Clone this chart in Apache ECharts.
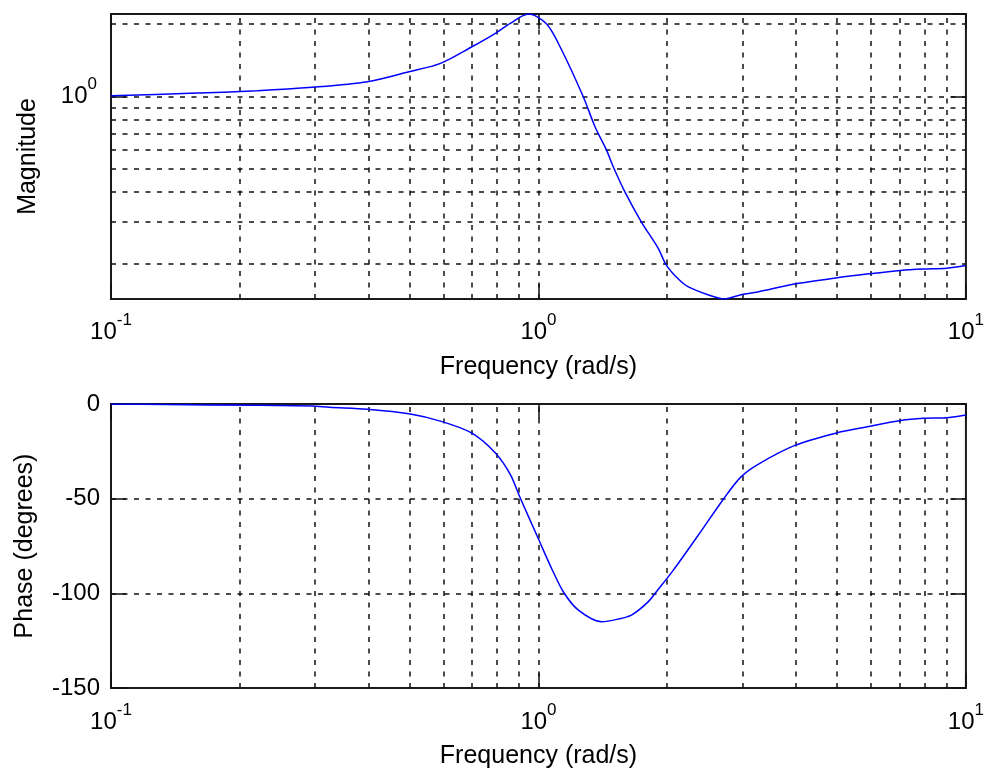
<!DOCTYPE html>
<html>
<head>
<meta charset="utf-8">
<script src="https://cdn.jsdelivr.net/npm/echarts@6/dist/echarts.min.js"></script>
<style>
html,body{margin:0;padding:0;background:#fff;}
#c{width:987px;height:770px;}
</style>
</head>
<body>
<div id="c"></div>
<script>
// Magnitude curve (frequency in rad/s, magnitude absolute)
const magFreq = [0.1, 0.153, 0.22, 0.296, 0.398, 0.498, 0.59, 0.699, 0.793, 0.859, 0.948, 1.045, 1.133, 1.273, 1.356, 1.443, 1.496, 1.593, 1.74, 1.905, 1.991, 2.119, 2.237, 2.491, 2.723, 2.977, 3.257, 3.966, 4.957, 5.93, 7.03, 7.96, 9.03, 10];
const magValues = [1.006, 1.029, 1.055, 1.09, 1.15, 1.266, 1.372, 1.609, 1.83, 2.014, 2.203, 2.0, 1.56, 0.996, 0.747, 0.597, 0.509, 0.4, 0.3, 0.233, 0.198, 0.174, 0.161, 0.149, 0.143, 0.149, 0.153, 0.165, 0.175, 0.182, 0.188, 0.1905, 0.192, 0.197];
// Phase curve (degrees)
const phaseFreq = [0.1, 0.168, 0.296, 0.324, 0.398, 0.498, 0.595, 0.699, 0.793, 0.859, 0.906, 1.0, 1.074, 1.144, 1.24, 1.405, 1.536, 1.65, 1.805, 1.905, 2.064, 2.36, 2.723, 2.977, 3.257, 3.966, 4.957, 5.93, 7.03, 7.96, 9.03, 10];
const phaseValues = [0, -0.5, -1.0, -1.7, -2.8, -5.2, -9.3, -15.4, -25.9, -37.2, -49.5, -71.3, -87.0, -99.3, -108.9, -115.0, -113.6, -111.5, -104.5, -98.0, -88.0, -69.6, -49.5, -38.5, -32.0, -22.0, -15.4, -11.9, -8.7, -7.5, -7.2, -5.8];
// Grid / tick values
const freqGrid = [0.2, 0.3, 0.4, 0.5, 0.6, 0.7, 0.8, 0.9, 1, 2, 3, 4, 5, 6, 7, 8, 9];
const magGrid = [0.2, 0.3, 0.4, 0.5, 0.6, 0.7, 0.8, 0.9, 1, 2];
const phaseGrid = [-50, -100];
const freqRange = [0.1, 10];
const magRange = [0.143, 2.203];
const phaseRange = [-150, 0];
const phaseStep = 50;
const xName = 'Frequency (rad/s)';
const magName = 'Magnitude';
const phaseName = 'Phase (degrees)';

const FONT = '"Liberation Sans", Arial, sans-serif';
const rich = {
  b: {fontSize: 24, lineHeight: 24, fontFamily: FONT, color: '#000'},
  s: {fontSize: 17, lineHeight: 17, fontFamily: FONT, color: '#000', padding: [0, 0, 23, 0]}
};
function powFmt(v) {
  const l = Math.log10(v);
  const e = Math.round(l);
  if (Math.abs(l - e) > 1e-6) return '';
  return '{b|10}{s|' + e + '}';
}
const gridStyle = {type: [5, 6.5], color: '#111', width: 1.5};
const tickStyle = {color: '#111', width: 1.5};

function xAx(gi, pos, showLabel, margin) {
  return {
    type: 'log', logBase: 10, gridIndex: gi, position: pos,
    min: freqRange[0], max: freqRange[1],
    axisLine: {show: false, onZero: false},
    axisTick: {show: true, inside: true, length: 15, lineStyle: tickStyle},
    splitLine: {show: false},
    axisLabel: {show: showLabel, margin: margin, formatter: powFmt, rich: rich, showMinLabel: true, showMaxLabel: true},
    name: showLabel ? xName : '', nameLocation: 'middle', nameGap: 56,
    nameTextStyle: {fontSize: 25, fontFamily: FONT, color: '#000'}
  };
}
function yTickAx(gi, pos, extra) {
  return Object.assign({
    gridIndex: gi, position: pos,
    axisLine: {show: false, onZero: false},
    axisTick: {show: true, inside: true, length: 15, lineStyle: tickStyle},
    splitLine: {show: false}
  }, extra);
}

const option = {
  animation: false,
  backgroundColor: '#fff',
  grid: [
    {left: 111, top: 14, width: 858, height: 285, show: true, borderColor: '#1a1a1a', borderWidth: 2, backgroundColor: 'transparent'},
    {left: 111, top: 404, width: 858, height: 286, show: true, borderColor: '#1a1a1a', borderWidth: 2, backgroundColor: 'transparent'}
  ],
  xAxis: [xAx(0, 'bottom', true, 21), xAx(0, 'top', false, 8), xAx(1, 'bottom', true, 22), xAx(1, 'top', false, 8)],
  yAxis: [
    yTickAx(0, 'left', {type: 'log', logBase: 10, min: magRange[0], max: magRange[1],
      axisLabel: {margin: 14, formatter: powFmt, rich: rich, showMinLabel: false, showMaxLabel: false},
      name: magName, nameLocation: 'middle', nameRotate: 90, nameGap: 70,
      nameTextStyle: {fontSize: 25, fontFamily: FONT, color: '#000'}}),
    yTickAx(0, 'right', {type: 'log', logBase: 10, min: magRange[0], max: magRange[1], axisLabel: {show: false}}),
    yTickAx(1, 'left', {type: 'value', min: phaseRange[0], max: phaseRange[1], interval: phaseStep,
      axisLabel: {margin: 11, fontSize: 24, fontFamily: FONT, color: '#000'},
      name: phaseName, nameLocation: 'middle', nameRotate: 90, nameGap: 73,
      nameTextStyle: {fontSize: 25, fontFamily: FONT, color: '#000'}}),
    yTickAx(1, 'right', {type: 'value', min: phaseRange[0], max: phaseRange[1], interval: phaseStep, axisLabel: {show: false}})
  ],
  series: [
    {type: 'line', xAxisIndex: 0, yAxisIndex: 0, symbol: 'none', smooth: 0.3,
     data: magFreq.map((f, i) => [f, magValues[i]]),
     lineStyle: {color: '#0000ff', width: 1.5}, z: 5,
     markLine: {silent: true, symbol: 'none', label: {show: false}, lineStyle: gridStyle, z: 3,
       data: freqGrid.map(v => ({xAxis: v})).concat(magGrid.map(v => ({yAxis: v})))}},
    {type: 'line', xAxisIndex: 2, yAxisIndex: 2, symbol: 'none', smooth: 0.3,
     data: phaseFreq.map((f, i) => [f, phaseValues[i]]),
     lineStyle: {color: '#0000ff', width: 1.5}, z: 5,
     markLine: {silent: true, symbol: 'none', label: {show: false}, lineStyle: gridStyle, z: 3,
       data: freqGrid.map(v => ({xAxis: v})).concat(phaseGrid.map(v => ({yAxis: v})))}}
  ]
};
const chart = echarts.init(document.getElementById('c'), null, {renderer: 'canvas'});
chart.setOption(option);
</script>
</body>
</html>
